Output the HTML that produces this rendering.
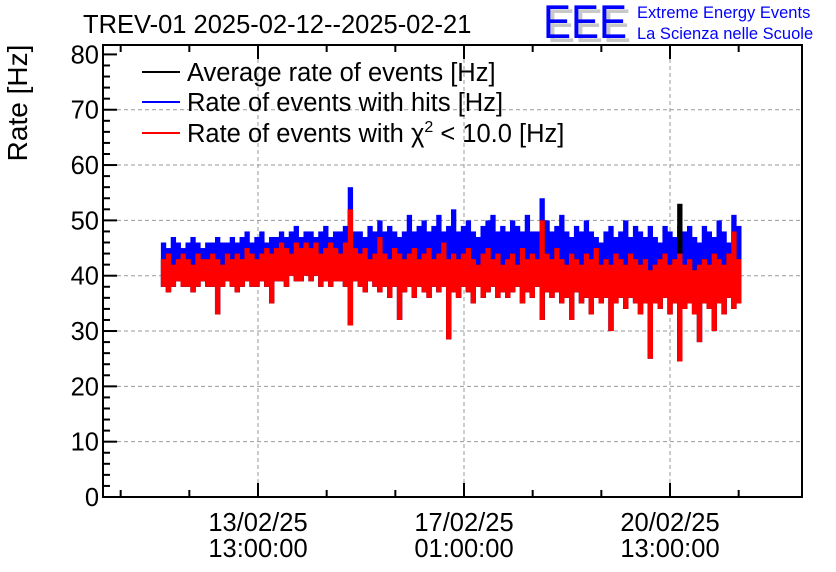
<!DOCTYPE html>
<html><head><meta charset="utf-8"><style>
body{margin:0;background:#fff;width:836px;height:572px;overflow:hidden}
svg{display:block;font-family:"Liberation Sans",sans-serif}
</style></head><body>
<svg id="chart" width="836" height="572" viewBox="0 0 836 572">
<rect width="836" height="572" fill="#fff"/>
<g id="grid"></g>
<g id="series"></g>
<rect x="103" y="45" width="699" height="452" fill="none" stroke="#000" stroke-width="2"/>
<g id="axes"></g>
<text x="83" y="33" font-size="25.5">TREV-01 2025-02-12--2025-02-21</text>
<text transform="translate(27,103) rotate(-90)" text-anchor="middle" font-size="28">Rate [Hz]</text>
<g>
<text x="547" y="42" font-size="47" fill="#c8c8c8" textLength="84" lengthAdjust="spacingAndGlyphs">EEE</text>
<text x="543" y="38" font-size="47" fill="#0000ff" textLength="84" lengthAdjust="spacingAndGlyphs">EEE</text>
<text x="637" y="18" font-size="16.5" fill="#0000ff">Extreme Energy Events</text>
<text x="637" y="39" font-size="16.5" fill="#0000ff">La Scienza nelle Scuole</text>
</g>
<g>
<g><line x1="142" y1="72" x2="180" y2="72" stroke="#000" stroke-width="2"/><text x="187" y="81" font-size="25.5">Average rate of events [Hz]</text></g>
<g><line x1="142" y1="102" x2="180" y2="102" stroke="#00f" stroke-width="2"/><text x="187" y="111" font-size="25.5">Rate of events with hits [Hz]</text></g>
<g><line x1="142" y1="133" x2="180" y2="133" stroke="#f00" stroke-width="2"/><text x="187" y="142" font-size="25.5">Rate of events with χ<tspan font-size="16" dy="-10">2</tspan><tspan dy="10"> &lt; 10.0 [Hz]</tspan></text></g>
</g>
</svg>
<script>
const yTicks=[0,10,20,30,40,50,60,70,80];
const xTickHours=[0,84,168];
const xTickDates=["13/02/25","17/02/25","20/02/25"];
const xTickTimes=["13:00:00","01:00:00","13:00:00"];
const startHour=-39.6;
const binHours=2.005;
const blueHi=[46,45,47,46,45,46,47,46,45,46,46,47,46,46,47,46,47,48,46,47,48,46,47,47,48,47,48,49,47,48,48,47,48,49,47,48,48,49,56,48,48,47,49,48,50,48,49,48,47,48,51,48,49,50,48,49,51,48,49,52,48,49,50,48,47,49,50,51,48,49,48,50,49,48,51,48,48,54,50,48,49,51,48,47,49,48,50,48,47,46,48,49,47,48,50,47,49,48,47,49,47,46,49,48,47,49,48,49,47,46,49,48,47,50,48,46,51,49];
const blackHi=[43,44,42,43,44,43,42,44,43,43,44,43,42,44,43,44,43,45,44,43,44,45,44,45,46,45,44,46,45,46,45,46,44,45,46,45,44,46,52,45,44,45,43,44,47,44,43,45,44,43,44,45,43,44,45,43,44,46,43,44,43,44,45,43,42,44,45,43,44,42,43,44,42,45,43,44,43,50,44,43,45,43,42,44,43,42,44,43,45,42,43,42,44,43,42,44,43,42,43,41,42,43,44,42,43,53,42,43,41,42,43,42,44,43,42,44,48,43];
const redHi=[43,44,42,43,44,43,42,44,43,43,44,43,42,44,43,44,43,45,44,43,44,45,44,45,46,45,44,46,45,46,45,46,44,45,46,45,44,46,52,45,44,45,43,44,47,44,43,45,44,43,44,45,43,44,45,43,44,46,43,44,43,44,45,43,42,44,45,43,44,42,43,44,42,45,43,44,43,50,44,43,45,43,42,44,43,42,44,43,45,42,43,42,44,43,42,44,43,42,43,41,42,43,44,42,43,44,42,43,41,42,43,42,44,43,42,44,48,43];
const redLo=[38,37,38,39,38,38,37,38,39,38,38,33,38,39,38,37,38,39,38,38,39,38,35,39,39,38,40,39,39,40,39,40,38,39,38,39,39,38,31,39,38,37,39,38,37,38,36,38,32,37,38,36,38,37,36,38,37,38,28.5,37,36,38,37,35,38,36,37,38,36,37,36,37,38,35,37,36,38,32,37,36,37,35,36,32,37,35,36,33,36,35,36,30,35,36,34,36,35,33,35,25,35,34,36,33,35,24.5,34,35,33,28,35,34,30,35,33,36,34,35];
const NS="http://www.w3.org/2000/svg";
function X(h){return 258+h*206/84;}
function Y(v){return 497-v*(452/81.7);}
function mk(tag,attrs,parent){const e=document.createElementNS(NS,tag);for(const k in attrs)e.setAttribute(k,attrs[k]);parent.appendChild(e);return e;}
const grid=document.getElementById('grid'),axes=document.getElementById('axes'),ser=document.getElementById('series');
yTicks.forEach(v=>{
  if(v>0&&v<80){const l=mk('line',{x1:103,x2:802,y1:Y(v),y2:Y(v),stroke:'#999','stroke-dasharray':'4,3'},grid);
  
  }
  const t=mk('line',{x1:103,x2:117,y1:Y(v),y2:Y(v),stroke:'#000','stroke-width':2},axes);
  
  
  const lb=mk('text',{x:99,y:Y(v)+9,'text-anchor':'end','font-size':25.5},axes);
  
  
  lb.textContent=v;
  if(v<80)for(let m=2;m<10;m+=2){const mt=mk('line',{x1:103,x2:110,y1:Y(v+m),y2:Y(v+m),stroke:'#000','stroke-width':2},axes);
  
  }
});
xTickHours.forEach((h,i)=>{
  const g=mk('line',{x1:X(h),x2:X(h),y1:45,y2:497,stroke:'#999','stroke-dasharray':'4,3'},grid);
  
  
  const a=mk('text',{x:X(h),y:531,'text-anchor':'middle','font-size':25.5},axes);
  
  
  a.textContent=xTickDates[i];
  const b=mk('text',{x:X(h),y:557,'text-anchor':'middle','font-size':25.5},axes);
  
  
  b.textContent=xTickTimes[i];
});
for(let h=-56;h<=224;h+=28){const x=X(h);if(x<104||x>801)continue;const major=(h%84===0);
  [[497,497-(major?14:7)],[45,45+(major?14:7)]].forEach(p=>{const t=mk('line',{x1:x,x2:x,y1:p[0],y2:p[1],stroke:'#000','stroke-width':2},axes);
  
  });}
const bw=binHours*206/84;
function bars(hi,lo,color,name){
  hi.forEach((v,i)=>{const x=X(startHour+i*binHours);const top=Y(v),bot=Y(lo[i]);
    const r=mk('rect',{x:x,y:top,width:bw+0.4,height:Math.max(1,bot-top),fill:color},ser);
    
    });
}
bars(blueHi,redLo,'#0000ff','hits-rate-bin');
bars(blackHi,redLo,'#000000','average-rate-bin');
bars(redHi,redLo,'#ff0000','chi2-rate-bin');
</script>
</body></html>
